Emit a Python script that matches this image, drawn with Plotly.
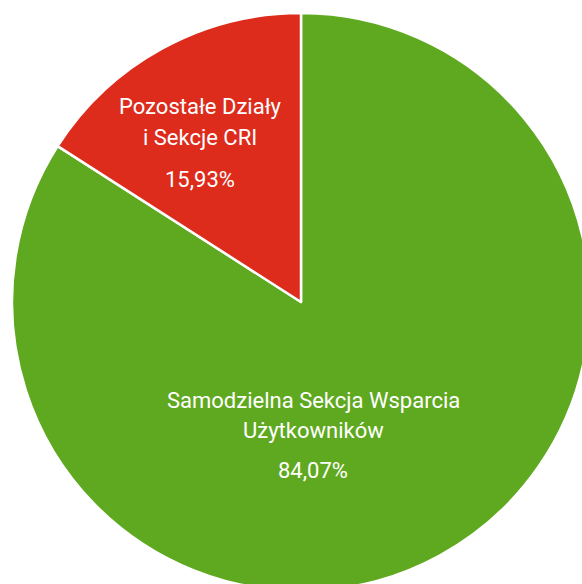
import plotly.graph_objects as go

# slices, in drawing order (clockwise from 12 o'clock)
labels = ["Samodzielna Sekcja Wsparcia Użytkowników", "Pozostałe Działy i Sekcje CRI"]
values = [84.07, 15.93]
colors = ["#5FA920", "#DD2B1C"]

# label lines as they are broken in the chart
label_lines = [
    ["Samodzielna Sekcja Wsparcia", "Użytkowników"],
    ["Pozostałe Działy", "i Sekcje CRI"],
]

W, H = 602, 604

fig = go.Figure(
    go.Pie(
        labels=labels,
        values=values,
        sort=False,
        direction="clockwise",
        rotation=0,
        marker=dict(colors=colors, line=dict(color="white", width=2.5)),
        textinfo="none",
        hoverinfo="label+percent",
        domain=dict(x=[12 / W, 590 / W], y=[13 / H, 591 / H]),
        showlegend=False,
    )
)

# label anchors in pixels (x, first line y, percent y)
anchors = [(313, 400, 470), (200, 107, 180)]
font = dict(family="Roboto, sans-serif", size=22, color="white")

for lines, val, (ax, ay, py) in zip(label_lines, values, anchors):
    for i, line in enumerate(lines):
        fig.add_annotation(
            x=ax / W, y=1 - (ay + 30 * i) / H, xref="paper", yref="paper",
            text=line, showarrow=False, font=font,
            xanchor="center", yanchor="middle",
        )
    fig.add_annotation(
        x=ax / W, y=1 - py / H, xref="paper", yref="paper",
        text=f"{val:.2f}%".replace(".", ","), showarrow=False, font=font,
        xanchor="center", yanchor="middle",
    )

fig.update_layout(
    width=W,
    height=H,
    margin=dict(l=0, r=0, t=0, b=0),
    paper_bgcolor="white",
    plot_bgcolor="white",
)

fig.write_html(
    "out.html",
    config={"displayModeBar": False},
    post_script="document.body.style.margin='0';document.body.style.overflow='hidden';",
)
